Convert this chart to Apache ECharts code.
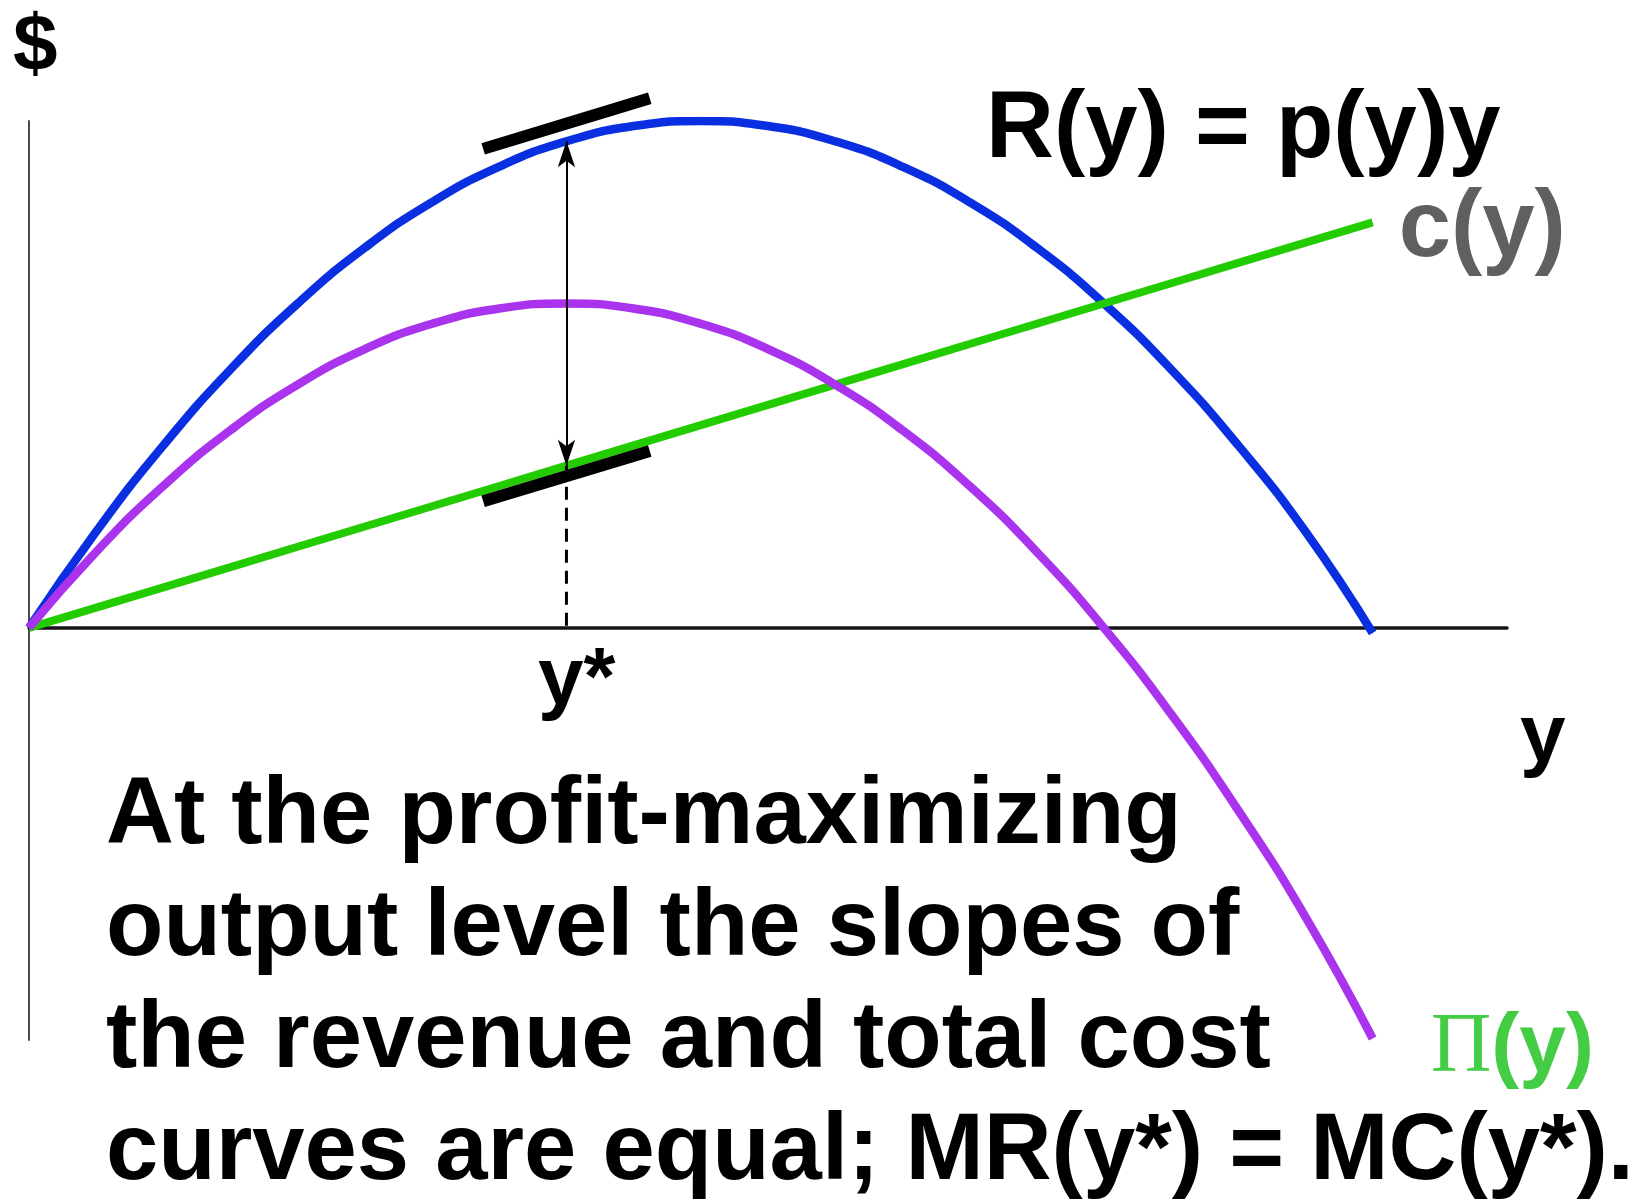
<!DOCTYPE html>
<html>
<head>
<meta charset="utf-8">
<script src="https://cdn.jsdelivr.net/npm/echarts@6/dist/echarts.min.js"></script>
<style>
html,body{margin:0;padding:0;background:#fff;}
#chart{width:1647px;height:1204px;}
</style>
</head>
<body>
<div id="chart"></div>
<script>
// Output levels (y)
const outputs = [0,0.5,1,1.5,2,2.5,3,3.5,4,4.5,5,5.5,6,6.5,7,7.5,8,8.5,9,9.5,10];
// Revenue R(y) = p(y)y
const revenue = [0,19,36,51,64,75,84,91,96,99,100,99,96,91,84,75,64,51,36,19,-1];
// Total cost c(y)
const cost = [0,4,8,12,16,20,24,28,32,36,40,44,48,52,56,60,64,68,72,76,80];
// Profit Π(y)
const profit = [0,15,28,39,48,55,60,63,64,63,60,55,48,39,28,15,0,-17,-36,-57,-81];
// Profit-maximizing output y*
const yStar = 4;
const revAtStar = 96;
const costAtStar = 32;
// Tangent bars (slope marks) near y*
const tangentX = [3.38, 4.62];
const tangentRevY = [94.5, 104.5];
const tangentCostY = [25.0, 34.9];

const pairs = (xs, ys) => xs.map((x, i) => [x, ys[i]]);

const SANS = "'Liberation Sans', Arial, sans-serif";
const SERIF = "'Liberation Serif', 'Times New Roman', serif";

const chart = echarts.init(document.getElementById('chart'));
chart.setOption({
  animation: false,
  backgroundColor: '#ffffff',
  grid: { left: 29, top: 121, width: 1478, height: 919 },
  xAxis: {
    type: 'value', min: 0, max: 11,
    axisLine: { onZero: true, lineStyle: { color: '#151515', width: 3.5 } },
    axisTick: { show: false }, axisLabel: { show: false }, splitLine: { show: false }
  },
  yAxis: {
    type: 'value', min: -81.3, max: 100,
    axisLine: { show: true, onZero: false, lineStyle: { color: '#4d4d4d', width: 2 } },
    axisTick: { show: false }, axisLabel: { show: false }, splitLine: { show: false }
  },
  series: [
    {
      name: 'R(y)', type: 'line', smooth: true, symbol: 'none',
      data: pairs(outputs, revenue),
      lineStyle: { color: '#0a2fe0', width: 8.5 }
    },
    {
      name: 'c(y)', type: 'line', smooth: false, symbol: 'none',
      data: pairs(outputs, cost),
      lineStyle: { color: '#22cc00', width: 8 },
      endLabel: {
        show: true, distance: 26, offset: [0, 8], formatter: 'c(y)',
        fontFamily: SANS, fontWeight: 'bold', fontSize: 94, color: '#606060'
      }
    },
    {
      name: 'Π(y)', type: 'line', smooth: true, symbol: 'none',
      data: pairs(outputs, profit),
      lineStyle: { color: '#aa33ee', width: 8.5 },
      endLabel: {
        show: true, distance: 58, offset: [0, 10],
        formatter: '{pi|Π}{b|(y)}',
        rich: {
          pi: { fontFamily: SERIF, fontWeight: 'normal', fontSize: 84, color: '#44cc44' },
          b: { fontFamily: SANS, fontWeight: 'bold', fontSize: 84, color: '#44cc44' }
        }
      }
    },
    {
      name: 'slopeR', type: 'line', symbol: 'none', clip: false,
      data: pairs(tangentX, tangentRevY),
      lineStyle: { color: '#000', width: 12, cap: 'butt' }
    },
    {
      name: 'slopeC', type: 'line', symbol: 'none', clip: false,
      data: pairs(tangentX, tangentCostY),
      lineStyle: { color: '#000', width: 12, cap: 'butt' }
    },
    {
      name: 'drop', type: 'line', symbol: 'none',
      data: [[yStar, costAtStar], [yStar, 0]],
      lineStyle: { color: '#000', width: 3, type: [13, 8] }
    },
    {
      name: 'gap', type: 'line', symbol: 'none', data: [],
      markLine: {
        silent: true, animation: false,
        symbol: ['arrow', 'arrow'], symbolSize: [13, 26],
        label: { show: false },
        lineStyle: { color: '#000', width: 2, type: 'solid' },
        data: [[{ coord: [yStar, revAtStar] }, { coord: [yStar, costAtStar] }]]
      }
    }
  ],
  graphic: [
    { type: 'text', x: 13, y: 8, style: { text: '$', font: `bold 80px ${SANS}`, fill: '#000', verticalAlign: 'top' } },
    { type: 'text', x: 986, y: 131, style: { text: 'R(y) = p(y)y', font: `bold 94px ${SANS}`, fill: '#000', verticalAlign: 'middle' } },
    { type: 'text', x: 538, y: 681, style: { text: 'y*', font: `bold 82px ${SANS}`, fill: '#000', verticalAlign: 'middle' } },
    { type: 'text', x: 1520, y: 738, style: { text: 'y', font: `bold 82px ${SANS}`, fill: '#000', verticalAlign: 'middle' } },
    { type: 'text', x: 106, y: 761, style: {
        text: 'At the profit-maximizing\noutput level the slopes of\nthe revenue and total cost\ncurves are equal; MR(y*) = MC(y*).',
        font: `bold 94px ${SANS}`, lineHeight: 112, fill: '#000', verticalAlign: 'top' } }
  ]
});
</script>
</body>
</html>
